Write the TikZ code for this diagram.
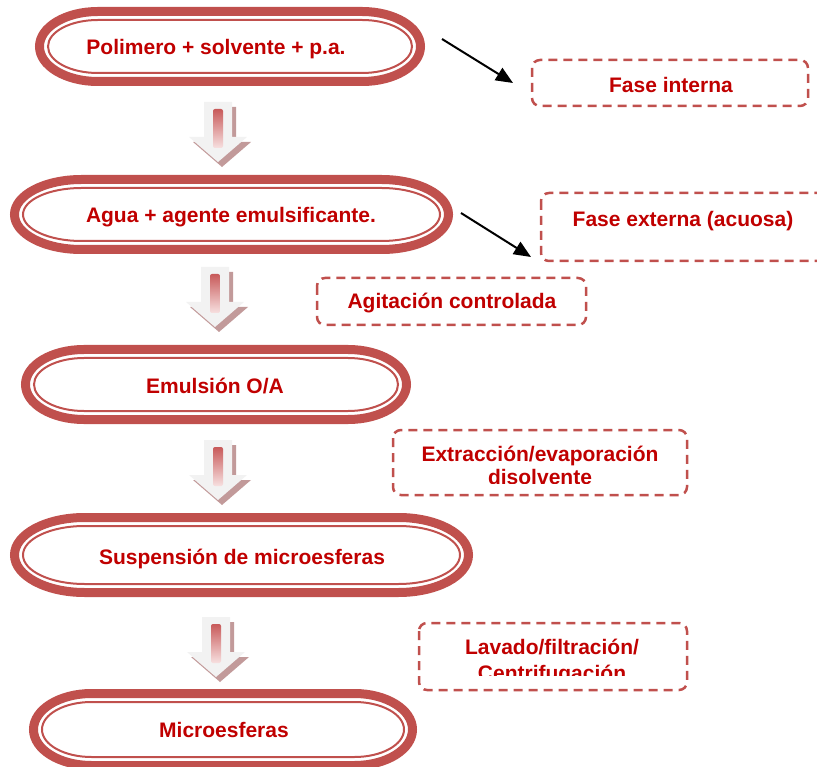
\documentclass[tikz,border=0pt]{standalone}
\usepackage{fontspec}
\setmainfont{Liberation Sans}
\usetikzlibrary{arrows.meta}
\definecolor{pillred}{HTML}{C0504D}
\definecolor{txtred}{HTML}{C00000}
\definecolor{arrbody}{HTML}{F2F2F2}
\definecolor{arrshadow}{HTML}{C29A9A}
\definecolor{bartop}{HTML}{C85A5A}
\definecolor{barbot}{HTML}{F7E0E0}
\newcommand{\termpath}[6]{%
  \pgfmathsetmacro\pilL{#1+#5}\pgfmathsetmacro\pilT{#2+#5}%
  \pgfmathsetmacro\pilR{#3-#5}\pgfmathsetmacro\pilB{#4-#5}%
  \pgfmathsetmacro\pilrx{0.161*(#3-#1)-#5}%
  \pgfmathsetmacro\pilM{(#2+#4)/2}%
  \pgfmathsetmacro\pilkx{0.5523*\pilrx}%
  \pgfmathsetmacro\pilky{0.5523*(\pilB-\pilT)/2}%
  \draw[#6] (\pilL+\pilrx,\pilT) -- (\pilR-\pilrx,\pilT)
    .. controls (\pilR-\pilrx+\pilkx,\pilT) and (\pilR,\pilM-\pilky) .. (\pilR,\pilM)
    .. controls (\pilR,\pilM+\pilky) and (\pilR-\pilrx+\pilkx,\pilB) .. (\pilR-\pilrx,\pilB)
    -- (\pilL+\pilrx,\pilB)
    .. controls (\pilL+\pilrx-\pilkx,\pilB) and (\pilL,\pilM+\pilky) .. (\pilL,\pilM)
    .. controls (\pilL,\pilM-\pilky) and (\pilL+\pilrx-\pilkx,\pilT) .. (\pilL+\pilrx,\pilT) -- cycle;}
\newcommand{\pill}[4]{%
  \termpath{#1}{#2}{#3}{#4}{4.5}{pillred,line width=9pt}%
  \termpath{#1}{#2}{#3}{#4}{13}{pillred,line width=2pt}}
\newcommand{\fatarrow}[2]{%
  \fill[arrshadow] (#1-14+4,#2+5) -- (#1+14+4,#2+5) -- (#1+14+4,#2+40) -- (#1+29+4,#2+40)
     -- (#1+4,#2+65) -- (#1-29+4,#2+40) -- (#1-14+4,#2+40) -- cycle;
  \fill[arrbody] (#1-14,#2) -- (#1+14,#2) -- (#1+14,#2+35) -- (#1+29,#2+35)
     -- (#1,#2+60) -- (#1-29,#2+35) -- (#1-14,#2+35) -- cycle;
  \shade[top color=bartop, bottom color=barbot, rounded corners=2pt] (#1-5,#2+7) rectangle (#1+5,#2+46);}
\tikzset{
  ptext/.style={text=txtred, font=\fontsize{21}{24}\selectfont\bfseries, inner sep=0pt, anchor=base},
  dbox/.style={draw=pillred, line width=2.5pt, dash pattern=on 9pt off 6pt, rounded corners=8pt},
  blackarrow/.style={line width=2pt, arrows={-Triangle[length=6mm,width=5mm]}}
}
\begin{document}
\begin{tikzpicture}[x=1pt,y=-1pt]
\useasboundingbox (0,0) rectangle (817,767);
% pills
\pill{35}{7}{425}{86}
\node[ptext] (p1) at (216,55) {Polimero + solvente + p.a.};
\pill{10}{175}{453}{254}
\node[ptext] (p2) at (231,223) {Agua + agente emulsificante.};
\pill{21}{345}{411}{424}
\node[ptext] (p3) at (215,393) {Emulsión O/A};
\pill{10}{513}{473}{597}
\node[ptext] (p4) at (242,564) {Suspensión de microesferas};
\pill{29}{689}{417}{770}
\node[ptext] (p5) at (224,737) {Microesferas};
% down arrows
\fatarrow{218}{102}
\fatarrow{215}{267}
\fatarrow{218}{440}
\fatarrow{216}{617}
% dashed boxes
\draw[dbox] (532,60) rectangle (808,106);
\node[ptext] (fi) at (671,93) {Fase interna};
\draw[dbox] (541,193) rectangle (826,261);
\node[ptext] (fe) at (683,227) {Fase externa (acuosa)};
\draw[dbox] (317,278) rectangle (586,325);
\node[ptext] (ag) at (452,309) {Agitación controlada};
\draw[dbox] (393,430) rectangle (687,495);
\node[ptext] (ex1) at (540,461) {Extracción/evaporación};
\begin{scope}
\clip (393,430) rectangle (687,483.5);
\node[ptext] (ex2) at (540,484) {disolvente};
\end{scope}
\draw[dbox] (419,623) rectangle (687,690);
\node[ptext] (lv1) at (552,654) {Lavado/filtración/};
\begin{scope}
\clip (419,623) rectangle (687,675);
\node[ptext] (lv2) at (552,680) {Centrifugación};
\end{scope}
% black arrows
\coordinate (b1s) at (442,39);
\coordinate (b1e) at (513,83);
\coordinate (b2s) at (461,213);
\coordinate (b2e) at (531,257);
\draw[blackarrow] (b1s) -- (b1e);
\draw[blackarrow] (b2s) -- (b2e);
\end{tikzpicture}
\end{document}
